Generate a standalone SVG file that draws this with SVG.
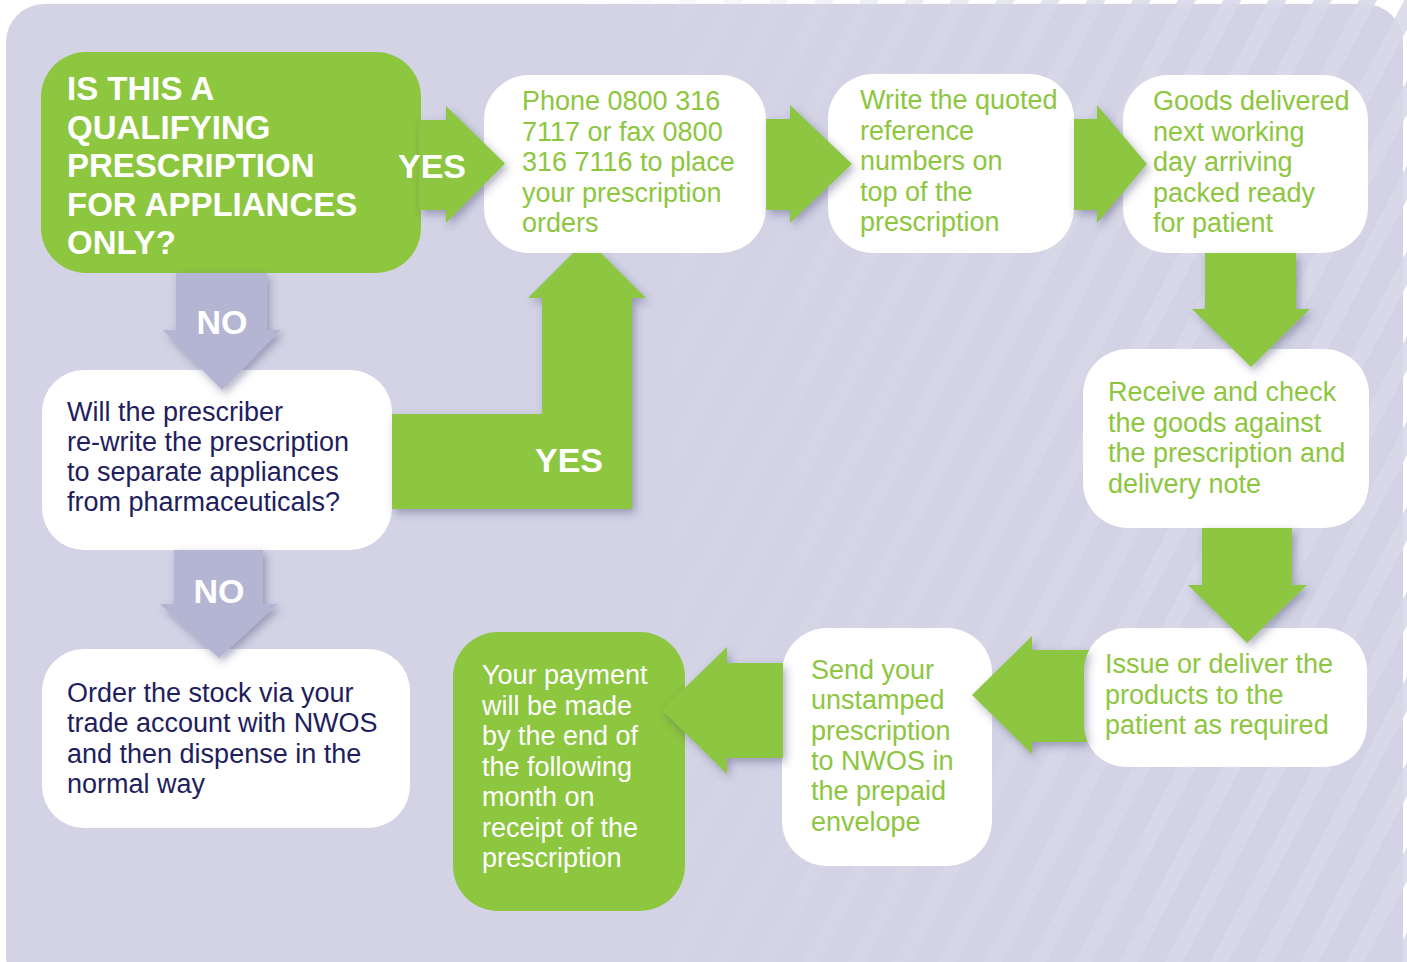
<svg xmlns="http://www.w3.org/2000/svg" width="1407" height="962" viewBox="0 0 1407 962">
<defs>
<style>
.gn{fill:#8dc63f}
.wn{fill:#ffffff}
.ga{fill:#8dc63f;filter:url(#sh)}
.na{fill:#b4b4d3;filter:url(#sh)}
.tg{font-family:"Liberation Sans",Arial,Helvetica,sans-serif;font-size:27px;fill:#8dc63f}
.tn{font-family:"Liberation Sans",Arial,Helvetica,sans-serif;font-size:27px;fill:#221e5e}
.tw{font-family:"Liberation Sans",Arial,Helvetica,sans-serif;font-size:27px;fill:#ffffff}
.tq{font-family:"Liberation Sans",Arial,Helvetica,sans-serif;font-size:33px;font-weight:bold;fill:#ffffff}
.lb{font-family:"Liberation Sans",Arial,Helvetica,sans-serif;font-size:34px;font-weight:bold;fill:#ffffff}
</style>
<filter id="sh" x="-20%" y="-20%" width="150%" height="150%">
<feDropShadow dx="3" dy="4" stdDeviation="4" flood-color="#3c3c6e" flood-opacity="0.4"/>
</filter>
<pattern id="stripes" patternUnits="userSpaceOnUse" width="40" height="40" patternTransform="rotate(28)">
<rect x="0" y="0" width="16" height="40" fill="#ffffff" fill-opacity="0.12"/>
</pattern>
<pattern id="stripesOut" patternUnits="userSpaceOnUse" width="40" height="40" patternTransform="rotate(28)">
<rect x="0" y="0" width="16" height="40" fill="#dcdcea"/>
</pattern>
<linearGradient id="fade" x1="0" y1="0" x2="1" y2="0">
<stop offset="0.4" stop-color="#000"/>
<stop offset="0.85" stop-color="#fff"/>
</linearGradient>
<mask id="m" maskUnits="userSpaceOnUse" x="0" y="0" width="1407" height="962">
<rect x="0" y="0" width="1407" height="962" fill="url(#fade)"/>
</mask>
<clipPath id="panelClip"><rect x="6" y="4" width="1397" height="958" rx="38"/></clipPath>
</defs>

<rect x="0" y="0" width="1407" height="962" fill="#ffffff"/>
<rect x="0" y="0" width="1407" height="962" fill="url(#stripesOut)" mask="url(#m)"/>
<rect x="6" y="4" width="1397" height="990" rx="38" fill="#d3d3e5"/>
<g clip-path="url(#panelClip)">
<rect x="6" y="4" width="1397" height="958" fill="url(#stripes)" mask="url(#m)"/>
</g>

<g id="n1">
<rect class="gn" x="41" y="52" width="380" height="221" rx="45"/>
<text class="tq" x="67" y="100">IS THIS A</text>
<text class="tq" x="67" y="138.5">QUALIFYING</text>
<text class="tq" x="67" y="177">PRESCRIPTION</text>
<text class="tq" x="67" y="215.5">FOR APPLIANCES</text>
<text class="tq" x="67" y="254">ONLY?</text>
</g>
<g id="n2">
<rect class="wn" x="484" y="75" width="282" height="178" rx="45"/>
<text class="tg" x="522" y="110">Phone 0800 316</text>
<text class="tg" x="522" y="140.5">7117 or fax 0800</text>
<text class="tg" x="522" y="171">316 7116 to place</text>
<text class="tg" x="522" y="201.5">your prescription</text>
<text class="tg" x="522" y="232">orders</text>
</g>
<g id="n3">
<rect class="wn" x="828" y="74" width="246" height="179" rx="45"/>
<text class="tg" x="860" y="109">Write the quoted</text>
<text class="tg" x="860" y="139.5">reference</text>
<text class="tg" x="860" y="170">numbers on</text>
<text class="tg" x="860" y="200.5">top of the</text>
<text class="tg" x="860" y="231">prescription</text>
</g>
<g id="n4">
<rect class="wn" x="1123" y="75" width="245" height="178" rx="45"/>
<text class="tg" x="1153" y="110">Goods delivered</text>
<text class="tg" x="1153" y="140.5">next working</text>
<text class="tg" x="1153" y="171">day arriving</text>
<text class="tg" x="1153" y="201.5">packed ready</text>
<text class="tg" x="1153" y="232">for patient</text>
</g>
<g id="n5">
<rect class="wn" x="1083" y="349" width="286" height="179" rx="45"/>
<text class="tg" x="1108" y="401">Receive and check</text>
<text class="tg" x="1108" y="431.5">the goods against</text>
<text class="tg" x="1108" y="462">the prescription and</text>
<text class="tg" x="1108" y="492.5">delivery note</text>
</g>
<g id="n6">
<rect class="wn" x="1084" y="628" width="283" height="139" rx="42"/>
<text class="tg" x="1105" y="673">Issue or deliver the</text>
<text class="tg" x="1105" y="703.5">products to the</text>
<text class="tg" x="1105" y="734">patient as required</text>
</g>
<g id="n7">
<rect class="wn" x="782" y="628" width="210" height="238" rx="45"/>
<text class="tg" x="811" y="679">Send your</text>
<text class="tg" x="811" y="709.3">unstamped</text>
<text class="tg" x="811" y="739.6">prescription</text>
<text class="tg" x="811" y="769.9">to NWOS in</text>
<text class="tg" x="811" y="800.2">the prepaid</text>
<text class="tg" x="811" y="830.5">envelope</text>
</g>
<g id="n8">
<rect class="gn" x="453" y="632" width="232" height="279" rx="45"/>
<text class="tw" x="482" y="684">Your payment</text>
<text class="tw" x="482" y="714.5">will be made</text>
<text class="tw" x="482" y="745">by the end of</text>
<text class="tw" x="482" y="775.5">the following</text>
<text class="tw" x="482" y="806">month on</text>
<text class="tw" x="482" y="836.5">receipt of the</text>
<text class="tw" x="482" y="867">prescription</text>
</g>
<g id="n9">
<rect class="wn" x="42" y="370" width="350" height="180" rx="42"/>
<text class="tn" x="67" y="421">Will the prescriber</text>
<text class="tn" x="67" y="451">re-write the prescription</text>
<text class="tn" x="67" y="481">to separate appliances</text>
<text class="tn" x="67" y="511">from pharmaceuticals?</text>
</g>
<g id="n10">
<rect class="wn" x="42" y="649" width="368" height="179" rx="42"/>
<text class="tn" x="67" y="702">Order the stock via your</text>
<text class="tn" x="67" y="732.3">trade account with NWOS</text>
<text class="tn" x="67" y="762.6">and then dispense in the</text>
<text class="tn" x="67" y="793">normal way</text>
</g>

<g id="connectors">
<path class="ga" d="M419,120 L446,120 L446,106 L505,163.5 L446,223 L446,210 L419,210 Z"/>
<path class="ga" d="M766,119 L790,119 L790,105 L852,164 L790,223 L790,210 L766,210 Z"/>
<path class="ga" d="M1074,119 L1097,119 L1097,105 L1147,164 L1097,223 L1097,210 L1074,210 Z"/>
<path class="ga" d="M1205,253 L1296,253 L1296,309 L1310,309 L1251,367 L1192,309 L1205,309 Z"/>
<path class="ga" d="M1202,528 L1292,528 L1292,585 L1307,585 L1247,643 L1188,585 L1202,585 Z"/>
<path class="ga" d="M1089.1,650 A42,42 0 0 0 1084,670 L1084,725 A42,42 0 0 0 1087.6,742 L1032,742 L1032,754 L972,695 L1032,636 L1032,650 Z"/>
<path class="ga" d="M783,663 L783,758 L727,758 L727,774 L662,710 L727,647 L727,663 Z"/>
<path class="ga" d="M392,414 L542,414 L542,298 L528,298 L573,253 L601,253 L646,298 L632,298 L632,509 L392,509 Z"/>
<path class="na" d="M176,273 L267,273 L267,330 L281,330 L222,390 L163,330 L176,330 Z"/>
<path class="na" d="M174,550 L263,550 L263,604 L278,604 L219,658 L160,604 L174,604 Z"/>
<text class="lb" x="398" y="178">YES</text>
<text class="lb" x="535" y="472">YES</text>
<text class="lb" x="222" y="334" text-anchor="middle">NO</text>
<text class="lb" x="219" y="603" text-anchor="middle">NO</text>
</g>
</svg>
